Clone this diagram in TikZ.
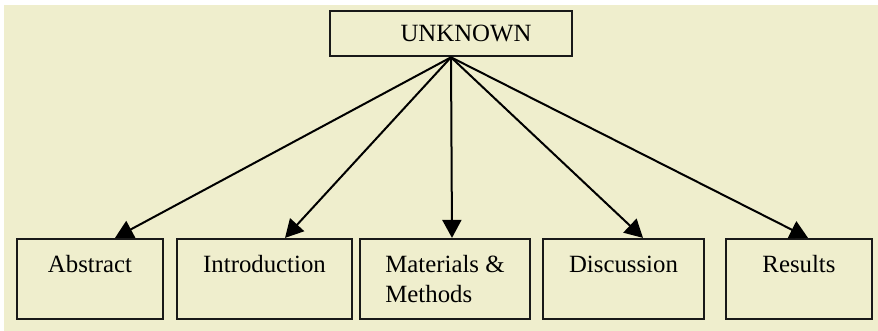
\documentclass[tikz,border=0pt]{standalone}
\usepackage{fontspec}
\setmainfont{Liberation Serif}
\usetikzlibrary{arrows.meta}
\definecolor{paper}{RGB}{239,238,205}
\begin{document}
\begin{tikzpicture}[x=0.5pt,y=-0.5pt]
    \tikzstyle{part} = [draw=black!90,line width=1.1pt,minimum height=40pt,
                        align=left,font=\fontsize{12.4}{15}\selectfont,inner sep=0pt]
    \tikzstyle{link} = [line width=1pt,-{Triangle[length=9pt,width=9.5pt]}]

    \useasboundingbox (0,0) rectangle (878,331);
    \fill[paper] (4,5) rectangle (878,331);

    % root box
    \node[part,minimum width=121pt,minimum height=22.5pt,line width=1.3pt]
         (unk) at (451,33.5) {\hspace*{15pt}UNKNOWN};

    % sections of the paper
    \node[part,minimum width=73pt]   (abs)  at (90,279)    {Abstract\\\mbox{}};
    \node[part,minimum width=87.5pt] (intro) at (264.5,279) {Introduction\\\mbox{}};
    \node[part,minimum width=85pt]   (mat)  at (445,279)   {Materials \&\\Methods};
    \node[part,minimum width=80.5pt] (disc) at (623.5,279) {Discussion\\\mbox{}};
    \node[part,minimum width=73pt]   (res)  at (799,279)   {Results\\\mbox{}};

    % arrows
    \draw[link] (unk.south) -- ([xshift=12.5pt]abs.north);
    \draw[link] (unk.south) -- ([xshift=10.25pt]intro.north);
    \draw[link] (unk.south) -- ([xshift=3.5pt]mat.north);
    \draw[link] (unk.south) -- ([xshift=9.75pt]disc.north);
    \draw[link] (unk.south) -- ([xshift=4.5pt]res.north);
\end{tikzpicture}
\end{document}
